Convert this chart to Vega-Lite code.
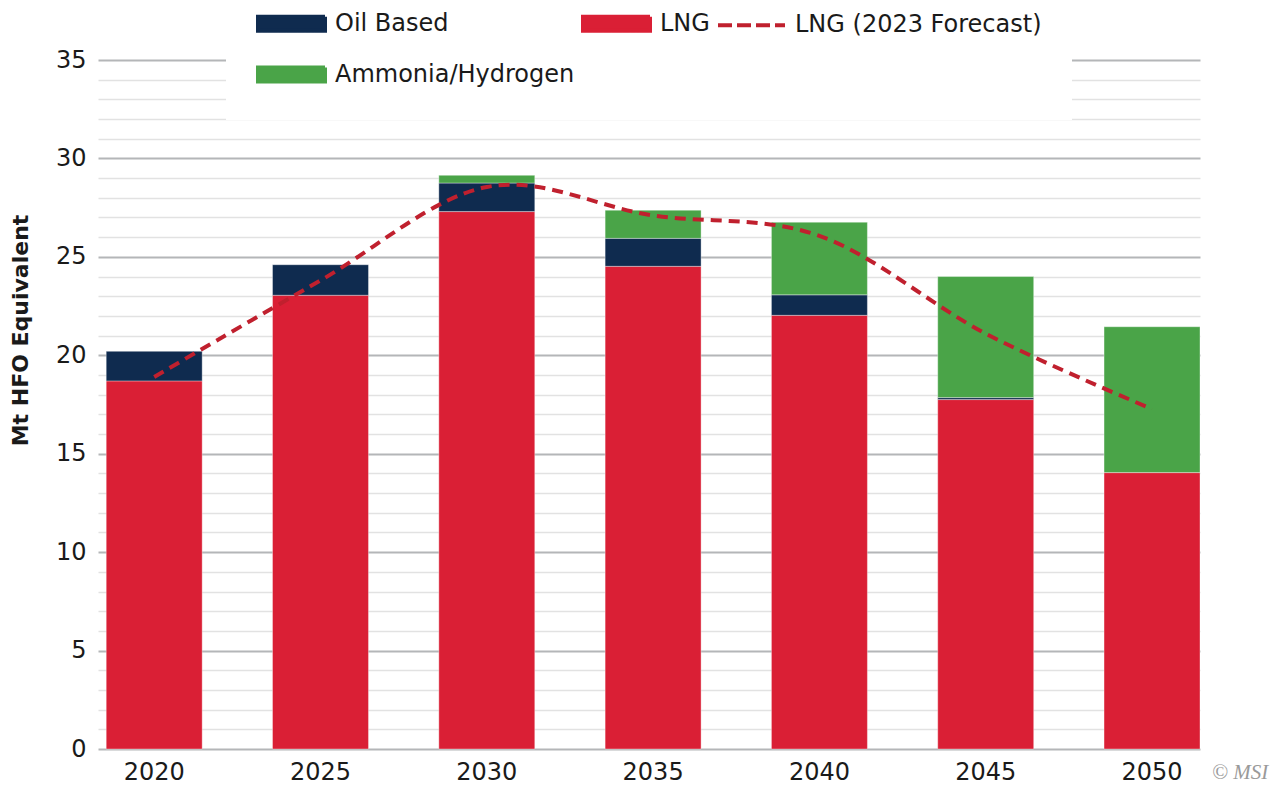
{
  "$schema": "https://vega.github.io/schema/vega-lite/v6.json",
  "width": 1102,
  "height": 689,
  "autosize": {"type": "none"},
  "padding": {"left": 98, "top": 60, "right": 87, "bottom": 38},
  "background": "white",
  "config": {
    "view": {"stroke": null},
    "font": "DejaVu Sans"
  },
  "datasets": {
    "bars": [
      {"year": "2020", "type": "LNG", "ord": 1, "value": 18.7},
      {"year": "2020", "type": "Oil Based", "ord": 2, "value": 1.5},
      {"year": "2025", "type": "LNG", "ord": 1, "value": 23.05},
      {"year": "2025", "type": "Oil Based", "ord": 2, "value": 1.55},
      {"year": "2030", "type": "LNG", "ord": 1, "value": 27.3},
      {"year": "2030", "type": "Oil Based", "ord": 2, "value": 1.45},
      {"year": "2030", "type": "Ammonia/Hydrogen", "ord": 3, "value": 0.39},
      {"year": "2035", "type": "LNG", "ord": 1, "value": 24.52},
      {"year": "2035", "type": "Oil Based", "ord": 2, "value": 1.42},
      {"year": "2035", "type": "Ammonia/Hydrogen", "ord": 3, "value": 1.43},
      {"year": "2040", "type": "LNG", "ord": 1, "value": 22.03},
      {"year": "2040", "type": "Oil Based", "ord": 2, "value": 1.04},
      {"year": "2040", "type": "Ammonia/Hydrogen", "ord": 3, "value": 3.69},
      {"year": "2045", "type": "LNG", "ord": 1, "value": 17.75},
      {"year": "2045", "type": "Oil Based", "ord": 2, "value": 0.1},
      {"year": "2045", "type": "Ammonia/Hydrogen", "ord": 3, "value": 6.15},
      {"year": "2050", "type": "LNG", "ord": 1, "value": 14.04},
      {"year": "2050", "type": "Ammonia/Hydrogen", "ord": 3, "value": 7.41}
    ],
    "forecast": [
      {"year": "2020", "value": 18.9},
      {"year": "2025", "value": 23.8},
      {"year": "2030", "value": 28.55},
      {"year": "2035", "value": 27.1},
      {"year": "2040", "value": 26.07},
      {"year": "2045", "value": 21.1},
      {"year": "2050", "value": 17.27}
    ],
    "note": [{"text": "© MSI"}]
  },
  "encoding": {
    "x": {
      "field": "year",
      "type": "ordinal",
      "scale": {"paddingInner": 0.423, "paddingOuter": 0.0247, "align": 1},
      "axis": {
        "title": null,
        "domain": false,
        "ticks": false,
        "labelAngle": 0,
        "labelFont": "DejaVu Sans",
        "labelFontSize": 24,
        "labelColor": "#1a1a1a",
        "labelPadding": 11
      }
    },
    "y": {
      "type": "quantitative",
      "scale": {"domain": [0, 35], "nice": false},
      "axis": {
        "title": "Mt HFO Equivalent",
        "titleFont": "DejaVu Sans",
        "titleFontSize": 22,
        "titleFontWeight": "bold",
        "titleColor": "#1a1a1a",
        "titleX": -66,
        "titleY": 270,
        "titleAngle": -90,
        "titleAlign": "center",
        "titleBaseline": "bottom",
        "values": [0,1,2,3,4,5,6,7,8,9,10,11,12,13,14,15,16,17,18,19,20,21,22,23,24,25,26,27,28,29,30,31,32,33,34,35],
        "labelExpr": "datum.value % 5 === 0 ? datum.label : ''",
        "labelFont": "DejaVu Sans",
        "labelFontSize": 24,
        "labelColor": "#1a1a1a",
        "labelPadding": 12,
        "ticks": false,
        "domain": false,
        "grid": true,
        "gridColor": {"condition": {"test": "datum.value % 5 === 0", "value": "#b4b6b8"}, "value": "#e2e2e2"},
        "gridWidth": {"condition": {"test": "datum.value % 5 === 0", "value": 2}, "value": 1.5}
      }
    }
  },
  "layer": [
    {
      "data": {"name": "bars"},
      "mark": {"type": "bar", "stroke": "#ffffff", "strokeWidth": 0.8, "strokeOpacity": 0.45},
      "encoding": {
        "y": {"field": "value", "type": "quantitative", "stack": "zero"},
        "order": {"field": "ord", "type": "quantitative"},
        "color": {
          "field": "type",
          "type": "nominal",
          "scale": {
            "domain": ["Oil Based", "LNG", "LNG (2023 Forecast)", "Ammonia/Hydrogen"],
            "range": ["#0f2b4f", "#da1f35", "#c0202e", "#4aa448"]
          },
          "legend": {
            "title": null,
            "orient": "none",
            "legendX": 128,
            "legendY": -102,
            "direction": "horizontal",
            "columns": 3,
            "columnPadding": 0,
            "rowPadding": 0,
            "padding": 30,
            "fillColor": "white",
            "labelFont": "DejaVu Sans",
            "labelFontSize": 24,
            "labelColor": "#1a1a1a",
            "labelOffset": 8,
            "labelLimit": 500,
            "symbolSize": 4489,
            "symbolOpacity": 1,
            "symbolType": {"expr": "datum.value === 'LNG (2023 Forecast)' ? 'M-1,0H1' : 'M-1,-0.21H1V0.21H-1Z'"},
            "symbolFillColor": {"expr": "datum.value === 'LNG (2023 Forecast)' ? 'transparent' : (datum.value === 'Oil Based' ? '#0f2b4f' : (datum.value === 'LNG' ? '#da1f35' : '#4aa448'))"},
            "symbolStrokeColor": {"expr": "datum.value === 'LNG (2023 Forecast)' ? '#c0202e' : 'transparent'"},
            "symbolStrokeWidth": 4,
            "symbolDash": {"expr": "datum.value === 'LNG (2023 Forecast)' ? [14, 5] : [1, 0]"}
          }
        }
      }
    },
    {
      "data": {"name": "forecast"},
      "mark": {"type": "line", "strokeDash": [11, 7], "strokeWidth": 4, "interpolate": "cardinal"},
      "encoding": {
        "y": {"field": "value", "type": "quantitative"},
        "color": {"datum": "LNG (2023 Forecast)", "legend": null}
      }
    },
    {
      "data": {"name": "note"},
      "mark": {"type": "text", "align": "left", "baseline": "middle", "dx": 60, "dy": 24, "font": "Liberation Serif", "fontStyle": "italic", "fontSize": 21, "color": "#9a9a9a"},
      "encoding": {
        "x": {"datum": "2050"},
        "y": {"datum": 0},
        "text": {"field": "text", "type": "nominal"}
      }
    }
  ]
}
